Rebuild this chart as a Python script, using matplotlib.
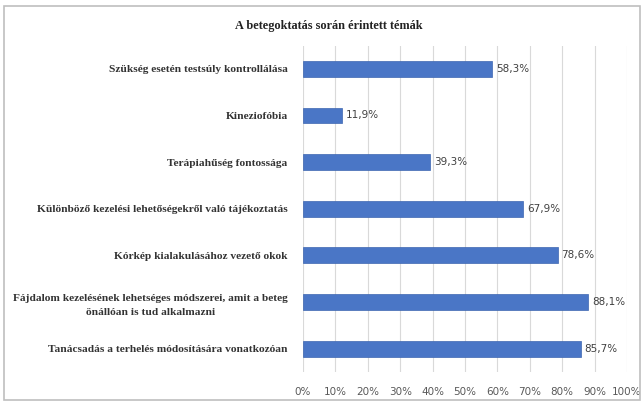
import matplotlib.pyplot as plt
from matplotlib.patches import Rectangle
from matplotlib.ticker import FuncFormatter

categories = [
    "Szükség esetén testsúly kontrollálása",
    "Kineziofóbia",
    "Terápiahűség fontossága",
    "Különböző kezelési lehetőségekről való tájékoztatás",
    "Kórkép kialakulásához vezető okok",
    "Fájdalom kezelésének lehetséges módszerei, amit a beteg\nönállóan is tud alkalmazni",
    "Tanácsadás a terhelés módosítására vonatkozóan",
]
values = [58.3, 11.9, 39.3, 67.9, 78.6, 88.1, 85.7]
value_labels = ["58,3%", "11,9%", "39,3%", "67,9%", "78,6%", "88,1%", "85,7%"]

fig = plt.figure(figsize=(6.44, 4.03), dpi=100)
fig.patches.append(Rectangle((0.006, 0.008), 0.988, 0.976, transform=fig.transFigure,
                             fill=False, edgecolor="#bfbfbf", linewidth=1.2))
ax = fig.add_axes([0.4705, 0.077, 0.503, 0.81])

y = list(range(len(categories)))
ax.barh(y, values, height=0.34, color="#4a76c6", edgecolor="#3d66b0", linewidth=0.5, zorder=3)
ax.set_xlim(0, 100)
ax.set_ylim(len(categories) - 0.5, -0.5)
ax.set_yticks(y)
ax.set_yticklabels(categories, fontfamily="Liberation Serif", fontweight="bold",
                   fontsize=8.2, color="#333333", ha="right", multialignment="center",
                   linespacing=1.7)
ax.tick_params(axis="y", length=0, pad=11)
ax.set_xticks(range(0, 101, 10))
ax.xaxis.set_major_formatter(FuncFormatter(lambda v, p: f"{int(v)}%"))
ax.tick_params(axis="x", length=0, labelsize=7.5, labelcolor="#595959", pad=11)
ax.grid(axis="x", color="#d9d9d9", linewidth=0.8, zorder=0)
for s in ax.spines.values():
    s.set_visible(False)

for yi, v, lab in zip(y, values, value_labels):
    ax.text(v + 1.2, yi, lab, va="center", ha="left", fontsize=7.5, color="#404040")

fig.text(0.511, 0.935, "A betegoktatás során érintett témák", ha="center", va="center",
         fontfamily="Liberation Serif", fontweight="bold", fontsize=8.8, color="#222222")

fig.savefig("out.png", dpi=100)
